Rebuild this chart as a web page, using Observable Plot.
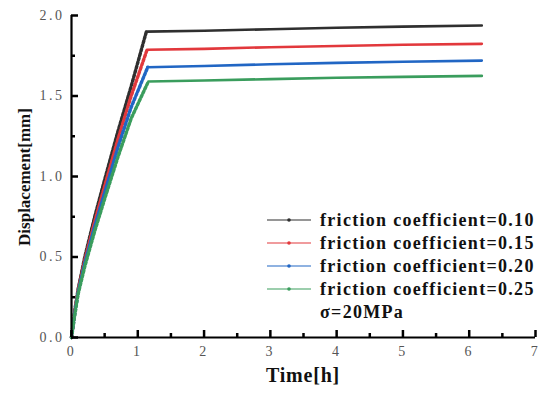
<!DOCTYPE html>
<html><head><meta charset="utf-8">
<script src="https://cdn.jsdelivr.net/npm/d3@7"></script>
<script src="https://cdn.jsdelivr.net/npm/@observablehq/plot@0.6"></script>
<style>
body{margin:0;background:#fff;}
#chart{width:550px;height:395px;}
#chart svg [aria-label="x-axis tick label"] text,
#chart svg [aria-label="y-axis tick label"] text{letter-spacing:2.5px;}
</style></head><body><div id="chart"></div>
<script>
const seriesLabels = ["friction coefficient=0.10","friction coefficient=0.15","friction coefficient=0.20","friction coefficient=0.25"];
const seriesColors = ["#2f2f2f","#e2383c","#2166c4","#3a9d5d"];
const noteText = "σ=20MPa";
const xTitle = "Time[h]";
const yTitle = "Displacement[mm]";
const xTicks = [0,1,2,3,4,5,6,7];
const xMinor = [0.5,1.5,2.5,3.5,4.5,5.5,6.5];
const yTicks = [0,0.5,1,1.5,2];
const yMinor = [0.25,0.75,1.25,1.75];

// loading stage [time h, displacement mm]
const rise010 = [[0,0],[0.05,0.17],[0.1,0.30],[0.2,0.50],[0.35,0.75],[0.5,0.98],[0.7,1.28],[0.9,1.56],[1.13,1.90]];
const rise015 = [[0,0],[0.05,0.16],[0.1,0.29],[0.2,0.48],[0.35,0.72],[0.5,0.94],[0.7,1.23],[0.9,1.50],[1.14,1.787]];
const rise020 = [[0,0],[0.05,0.15],[0.1,0.28],[0.2,0.46],[0.35,0.69],[0.5,0.90],[0.7,1.18],[0.9,1.43],[1.15,1.679]];
const rise025 = [[0,0],[0.05,0.14],[0.1,0.27],[0.2,0.44],[0.35,0.66],[0.5,0.86],[0.7,1.12],[0.9,1.36],[1.16,1.59]];
// holding stage
const hold010 = [[1.13,1.90],[2,1.905],[3,1.915],[4,1.924],[5,1.931],[6.19,1.938]];
const hold015 = [[1.14,1.787],[2,1.793],[3,1.803],[4,1.811],[5,1.818],[6.19,1.824]];
const hold020 = [[1.15,1.679],[2,1.686],[3,1.697],[4,1.706],[5,1.713],[6.19,1.72]];
const hold025 = [[1.16,1.59],[2,1.596],[3,1.605],[4,1.613],[5,1.619],[6.19,1.625]];

const riseSets = [rise010, rise015, rise020, rise025];
const holdSets = [hold010, hold015, hold020, hold025];
const toRows = sets => sets.flatMap((s, i) => s.map(([t, d]) => ({t, d, series: seriesLabels[i]})));
const riseRows = toRows(riseSets);
const holdRows = toRows(holdSets);

const W = 550, H = 395, ML = 71, MR = 15, MT = 15, MB = 58;
const plotW = W - ML - MR, plotH = H - MT - MB;
const font = "'Liberation Serif', 'Times New Roman', serif";
const chart = Plot.plot({
  width: W, height: H,
  marginLeft: ML, marginRight: MR, marginTop: MT, marginBottom: MB,
  style: {fontFamily: font, background: "#fff"},
  x: {domain: [0, 7], label: null},
  y: {domain: [0, 2], label: null},
  color: {domain: seriesLabels, range: seriesColors},
  marks: [
    Plot.line(holdRows, {x: "t", y: "d", z: "series", stroke: "series", strokeWidth: 2.6}),
    Plot.line(riseRows, {x: "t", y: "d", z: "series", stroke: "series", strokeWidth: 1, strokeOpacity: 0.25}),
    Plot.line(riseRows, {x: "t", y: "d", z: "series", stroke: "series", strokeWidth: 3.4, strokeDasharray: "2.2,2.2"}),
    Plot.axisX({ticks: xTicks, tickSize: 0, tickPadding: 9, tickFormat: d => String(d), fontSize: 14, fill: "#555", label: null}),
    Plot.axisY({ticks: yTicks, tickSize: 0, tickPadding: 7, tickFormat: d => d.toFixed(1), fontSize: 14, fill: "#555", label: null}),
    Plot.ruleY([0], {stroke: "#000", strokeWidth: 2.2}),
    Plot.ruleX([0], {stroke: "#000", strokeWidth: 2.2}),
    Plot.ruleX(xTicks, {x: d => d, insetTop: plotH - 7, stroke: "#000", strokeWidth: 2.5}),
    Plot.ruleX(xMinor, {x: d => d, insetTop: plotH - 4, stroke: "#000", strokeWidth: 2.5}),
    Plot.ruleY(yTicks, {y: d => d, insetRight: plotW - 7, stroke: "#000", strokeWidth: 2.5}),
    Plot.ruleY(yMinor, {y: d => d, insetRight: plotW - 4, stroke: "#000", strokeWidth: 2.5})
  ]
});
document.getElementById("chart").appendChild(chart);

const svg = d3.select(chart);
svg.append("text").attr("x", 303).attr("y", 382).attr("text-anchor", "middle").attr("letter-spacing", 0.8)
  .attr("font-family", font).attr("font-weight", "bold").attr("font-size", 20).attr("fill", "#111").text(xTitle);
svg.append("text").attr("transform", "translate(30,177) rotate(-90)").attr("text-anchor", "middle")
  .attr("font-family", font).attr("font-weight", "bold").attr("font-size", 17).attr("fill", "#111").text(yTitle);

const lg = svg.append("g").attr("text-anchor", "start");
const rowY = i => 220 + i * 23;
seriesLabels.forEach((lab, i) => {
  const y = rowY(i);
  lg.append("line").attr("x1", 267).attr("x2", 311).attr("y1", y).attr("y2", y).attr("stroke", seriesColors[i]).attr("stroke-width", 1.2);
  lg.append("circle").attr("cx", 289).attr("cy", y).attr("r", 1.8).attr("fill", seriesColors[i]);
  lg.append("text").attr("x", 320).attr("y", y).attr("dy", "0.35em").attr("text-anchor", "start").attr("font-family", font)
    .attr("font-weight", "bold").attr("font-size", 18).attr("letter-spacing", 1.3).attr("fill", "#111").text(lab);
});
lg.append("text").attr("x", 320).attr("y", rowY(4)).attr("dy", "0.35em").attr("text-anchor", "start").attr("font-family", font)
  .attr("font-weight", "bold").attr("font-size", 18).attr("letter-spacing", 1.3).attr("fill", "#111").text(noteText);
</script></body></html>
